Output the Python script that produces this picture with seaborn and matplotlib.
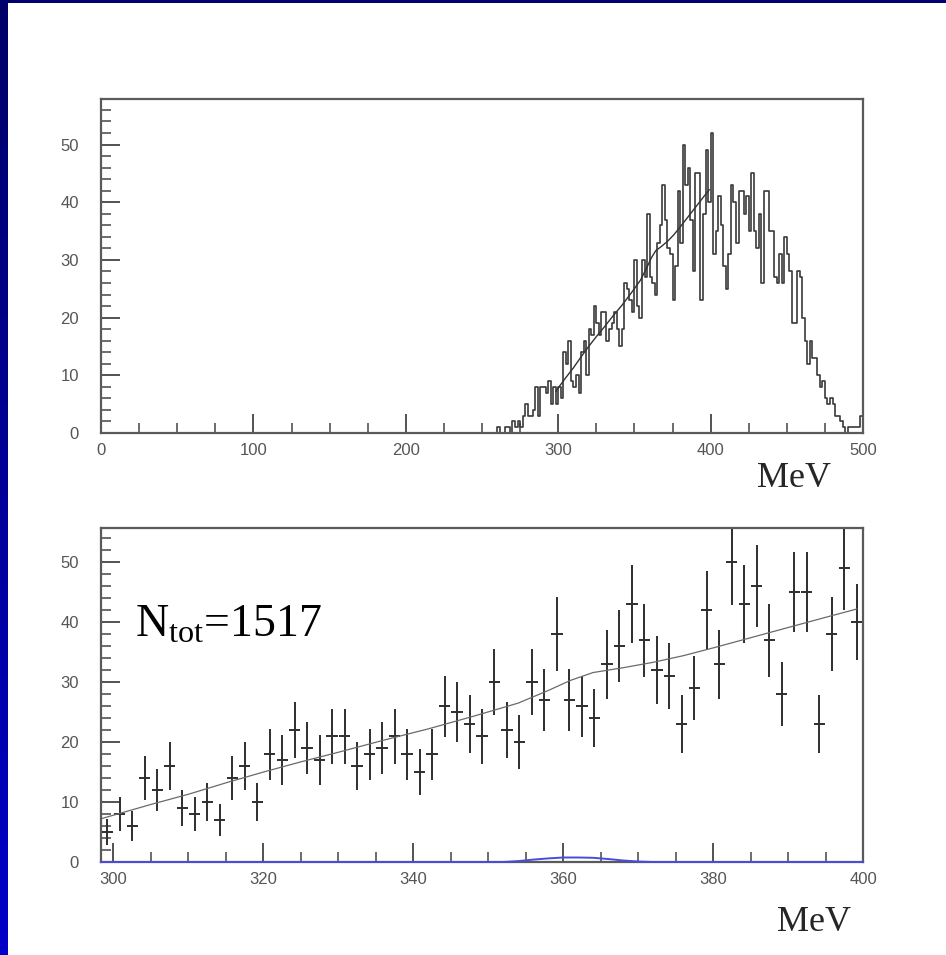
import numpy as np
import pandas as pd
import matplotlib
matplotlib.use("Agg")
import matplotlib.pyplot as plt
import seaborn as sns
from matplotlib.ticker import MultipleLocator
from matplotlib.patches import Rectangle

# ---- binning: 300 bins of 5/3 MeV spanning 0-500 MeV ----
n_bins = 300
e_lo, e_hi = 0.0, 500.0
first_low_bin = 153     # first bin listed in top_low
first_fit_bin = 179     # first bin of the fitted window (298.3-400 MeV)

# counts below the fit window (bins 153..178)
top_low = [0, 0, 0, 1, 0, 0, 1, 1, 0, 2, 1, 2, 1, 3, 5, 3, 3, 4, 8, 3,
           8, 8, 7, 9, 5, 8]
# counts in the fit window (bins 179..239), shown with errors below
fit_counts = [5, 8, 6, 14, 12, 16, 9, 8, 10, 7, 14, 16, 10, 18, 17, 22,
              19, 17, 21, 21, 16, 18, 19, 21, 18, 15, 18, 26, 25, 23, 21,
              30, 22, 20, 30, 27, 38, 27, 26, 24, 33, 36, 43, 37, 32, 31,
              23, 29, 42, 33, 50, 43, 46, 37, 28, 45, 45, 23, 38, 49, 40]
# counts above the fit window (bins 240..299)
top_high = [52, 31, 35, 41, 36, 29, 25, 31, 43, 40, 33, 42, 42, 38, 41,
            35, 45, 35, 32, 38, 26, 42, 42, 35, 35, 27, 26, 31, 26, 34,
            31, 28, 19, 19, 28, 27, 20, 16, 12, 16, 13, 13, 10, 8, 9,
            6, 5, 6, 5, 3, 3, 2, 1, 0, 1, 1, 1, 1, 1, 3]

# fitted total (background + signal) over the window
fit_e = [298.3, 305, 310, 315, 320, 325, 330, 336, 342, 348, 354, 358,
         361, 364, 368, 372, 376, 380, 385, 390, 395, 399.2]
fit_n = [7.2, 9.6, 11.3, 13.2, 15.0, 16.7, 18.3, 20.3, 22.2, 24.3, 26.5,
         28.6, 30.3, 31.6, 32.4, 33.3, 34.4, 35.7, 37.4, 39.1, 40.8, 42.2]

# fitted signal component
sig_e = [298.3, 352, 354, 356, 358, 360, 362, 364, 366, 368, 370, 372, 400]
sig_n = [0, 0, 0.15, 0.4, 0.6, 0.75, 0.75, 0.7, 0.5, 0.25, 0.08, 0, 0]

top_xticks = [0, 100, 200, 300, 400, 500]
top_yticks = [0, 10, 20, 30, 40, 50]
bot_xticks = [300, 320, 340, 360, 380, 400]
bot_yticks = [0, 10, 20, 30, 40, 50]
ntot_label = r"$\mathregular{N_{tot}}$=1517"
unit_label = "MeV"

# ---- assemble histogram table ----
edges = np.linspace(e_lo, e_hi, n_bins + 1)
centers = 0.5 * (edges[:-1] + edges[1:])
counts = np.zeros(n_bins)
counts[first_low_bin:first_low_bin + len(top_low)] = top_low
counts[first_fit_bin:first_fit_bin + len(fit_counts)] = fit_counts
start_high = first_fit_bin + len(fit_counts)
counts[start_high:start_high + len(top_high)] = top_high
hist_df = pd.DataFrame({"E": centers, "N": counts})

win = slice(first_fit_bin, first_fit_bin + len(fit_counts))
pts_df = pd.DataFrame({"E": centers[win], "N": np.array(fit_counts, float)})
pts_df["err"] = np.sqrt(pts_df["N"])
half_bin = 0.5 * (edges[1] - edges[0])

# ---- style ----
sns.set_style("white")
plt.rcParams["font.family"] = ["Liberation Sans", "DejaVu Sans"]
plt.rcParams["mathtext.fontset"] = "custom"
plt.rcParams["mathtext.rm"] = "Liberation Serif"

W, H = 946, 955
fig = plt.figure(figsize=(W / 100, H / 100), dpi=100)
fig.patch.set_facecolor("white")

spine_c = "#5a5a5a"
tick_c = "#555555"


def frame_axes(ax, xmin, ymin):
    for s in ax.spines.values():
        s.set_color(spine_c)
        s.set_linewidth(1.6)
    ax.xaxis.set_minor_locator(MultipleLocator(xmin))
    ax.yaxis.set_minor_locator(MultipleLocator(ymin))
    ax.tick_params(axis="both", which="both", bottom=True, left=True,
                   top=False, right=False, direction="in")
    ax.tick_params(axis="both", which="major", length=14, width=1.3,
                   color="#444444", labelsize=12, labelcolor=tick_c)
    ax.tick_params(axis="both", which="minor", length=7, width=1.1,
                   color="#444444")
    ax.tick_params(axis="y", which="major", pad=16)
    ax.tick_params(axis="x", which="major", pad=7)
    ax.set_xlabel("")
    ax.set_ylabel("")
    ax.grid(False)


# ---- upper panel: full spectrum ----
ax1 = fig.add_axes([101 / W, 1 - 433 / H, 762 / W, 334 / H])
sns.histplot(data=hist_df, x="E", weights="N", bins=n_bins,
             binrange=(e_lo, e_hi), element="step", fill=False,
             color="#3a3a3a", linewidth=1.2, ax=ax1)
sns.lineplot(x=fit_e, y=fit_n, color="#333333", linewidth=1.0, ax=ax1)
ax1.set_xlim(e_lo, e_hi)
ax1.set_ylim(0, 57.9)
ax1.set_xticks(top_xticks)
ax1.set_yticks(top_yticks)
frame_axes(ax1, 25, 2)

# ---- lower panel: fit window with errors ----
ax2 = fig.add_axes([101 / W, 1 - 862 / H, 762 / W, 334 / H])
ax2.errorbar(pts_df["E"], pts_df["N"], yerr=pts_df["err"], xerr=half_bin * 0.9,
             fmt="none", ecolor="#2e2e2e", elinewidth=1.4, capsize=0)
sns.lineplot(x=fit_e, y=fit_n, color="#6a6a6a", linewidth=0.9, ax=ax2)
sns.lineplot(x=sig_e, y=sig_n, color="#4a4ae0", linewidth=1.4, ax=ax2,
             zorder=5, clip_on=False)
ax2.set_xlim(edges[first_fit_bin], 400)
ax2.set_ylim(0, 55.7)
ax2.set_xticks(bot_xticks)
ax2.set_yticks(bot_yticks)
frame_axes(ax2, 5, 2)
ax2.text(135 / W, 1 - 637 / H, ntot_label, transform=fig.transFigure,
         fontsize=33, family="Liberation Serif", color="black",
         ha="left", va="baseline")

# unit labels
fig.text(794 / W, 1 - 478 / H, unit_label, fontsize=26,
         family="Liberation Serif", ha="center", va="center")
fig.text(814 / W, 1 - 922 / H, unit_label, fontsize=26,
         family="Liberation Serif", ha="center", va="center")

# ---- slide border: navy strip on top, blue gradient at left ----
fig.patches.append(Rectangle((0, 1 - 3 / H), 1, 3 / H, transform=fig.transFigure,
                             facecolor="#000070", edgecolor="none", zorder=5))
bax = fig.add_axes([0, 0, 7 / W, 1])
grad = np.linspace(0, 1, 256).reshape(-1, 1)
edge_cmap = matplotlib.colors.LinearSegmentedColormap.from_list(
    "edge", ["#000068", "#0000c8"])
bax.imshow(grad, aspect="auto", cmap=edge_cmap, extent=(0, 1, 0, 1),
           origin="upper")
bax.set_axis_off()

fig.savefig("out.png", dpi=100, facecolor="white")
